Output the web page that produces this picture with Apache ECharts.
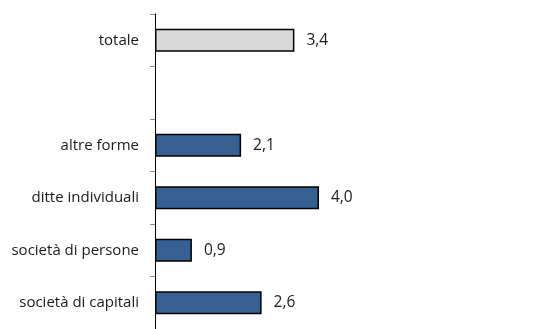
<!DOCTYPE html>
<html>
<head>
<meta charset="utf-8">
<script src="https://cdn.jsdelivr.net/npm/echarts@6/dist/echarts.min.js"></script>
<style>
  html, body { margin: 0; padding: 0; background: #fff; }
  #chart { width: 551px; height: 329px; }
</style>
</head>
<body>
<div id="chart"></div>
<script>
// categorie dal basso verso l'alto
const categories = ["società di capitali", "società di persone", "ditte individuali", "altre forme", "", "totale"];
const values = [2.6, 0.9, 4.0, 2.1, null, 3.4];

const chart = echarts.init(document.getElementById("chart"));

const data = values.map((v, i) => ({
  value: v,
  itemStyle: categories[i] === "totale"
    ? { color: "#d9d9d9", borderColor: "#000", borderWidth: 1.5 }
    : { color: "#376092", borderColor: "#000", borderWidth: 1.5 },
}));

chart.setOption({
  animation: false,
  grid: { left: 155, top: 14, width: 369, height: 318 },
  xAxis: {
    type: "value",
    min: 0,
    max: 9,
    show: false,
  },
  yAxis: {
    type: "category",
    data: categories,
    axisLine: { show: true, lineStyle: { color: "#000", width: 1 } },
    axisTick: { show: true, length: 5, lineStyle: { color: "#8c8c8c" } },
    axisLabel: {
      color: "#1a1a1a",
      fontFamily: "Open Sans",
      fontSize: 15,
      margin: 16,
    },
  },
  series: [
    {
      type: "bar",
      data: data,
      barWidth: 23,
      label: {
        show: true,
        position: "right",
        distance: 12,
        color: "#1a1a1a",
        fontFamily: "Open Sans",
        fontSize: 15.5,
        formatter: (p) => p.value == null ? "" : p.value.toFixed(1).replace(".", ","),
      },
    },
  ],
});
</script>
</body>
</html>
